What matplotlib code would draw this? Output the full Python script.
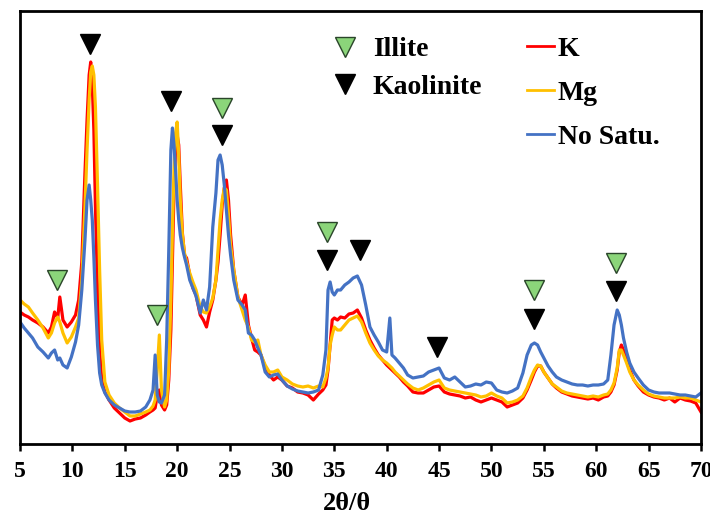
import matplotlib
matplotlib.use("Agg")
import matplotlib.pyplot as plt
from matplotlib.lines import Line2D

plt.rcParams['font.family'] = ['Liberation Serif', 'DejaVu Serif']
plt.rcParams['font.weight'] = 'bold'

# 2theta positions (degrees)
two_theta = [
    5.0, 5.4, 5.8, 6.2, 6.7, 7.2, 7.7, 8.0, 8.3, 8.6,
    8.8, 9.1, 9.5, 9.9, 10.3, 10.6, 10.9, 11.2, 11.4, 11.6,
    11.75, 11.9, 12.05, 12.2, 12.4, 12.6, 12.8, 13.1, 13.5, 14.0,
    14.5, 15.0, 15.5, 16.0, 16.5, 17.0, 17.4, 17.7, 17.9, 18.1,
    18.3, 18.5, 18.8, 19.0, 19.2, 19.4, 19.55, 19.7, 19.85, 20.0,
    20.15, 20.3, 20.5, 20.7, 20.9, 21.2, 21.5, 21.8, 22.2, 22.5,
    22.8, 23.1, 23.4, 23.7, 23.9, 24.1, 24.3, 24.5, 24.7, 24.9,
    25.1, 25.4, 25.8, 26.2, 26.5, 26.8, 27.1, 27.4, 27.7, 28.0,
    28.4, 28.8, 29.2, 29.6, 30.0, 30.5, 31.0, 31.5, 32.0, 32.5,
    33.0, 33.5, 33.9, 34.2, 34.4, 34.6, 34.8, 35.0, 35.3, 35.6,
    36.0, 36.4, 36.8, 37.2, 37.6, 38.0, 38.4, 38.8, 39.2, 39.6,
    40.0, 40.3, 40.5, 40.8, 41.2, 41.6, 42.0, 42.5, 43.0, 43.5,
    44.0, 44.5, 45.0, 45.5, 46.0, 46.5, 47.0, 47.5, 48.0, 48.5,
    49.0, 49.5, 50.0, 50.5, 51.0, 51.5, 52.0, 52.5, 53.0, 53.4,
    53.8, 54.1, 54.4, 54.7, 55.0, 55.4, 55.8, 56.2, 56.7, 57.2,
    57.7, 58.2, 58.7, 59.2, 59.7, 60.2, 60.7, 61.1, 61.4, 61.7,
    62.0, 62.2, 62.4, 62.6, 62.9, 63.2, 63.6, 64.0, 64.5, 65.0,
    65.5, 66.0, 66.5, 67.0, 67.5, 68.0, 68.5, 69.0, 69.5, 70.0,
]

# Intensities (arbitrary units)
k_sat = [
    132, 129, 127, 124, 121, 117, 111, 117, 132, 126,
    147, 124, 117, 122, 129, 144, 182, 271, 324, 369,
    382, 359, 314, 237, 154, 94, 64, 52, 44, 36,
    31, 26, 23, 25, 26, 29, 32, 34, 36, 49,
    54, 39, 34, 39, 64, 114, 184, 254, 294, 309,
    299, 259, 211, 189, 186, 169, 156, 149, 129, 124,
    117, 132, 144, 164, 182, 209, 239, 256, 264, 244,
    209, 174, 147, 139, 149, 119, 106, 94, 92, 89,
    77, 69, 64, 67, 64, 58, 56, 52, 51, 49,
    44, 50, 54, 59, 74, 99, 124, 126, 124, 127,
    126, 130, 131, 134, 126, 114, 104, 96, 89, 84,
    79, 76, 74, 71, 67, 62, 58, 52, 51, 51,
    54, 57, 58, 52, 50, 49, 48, 46, 47, 44,
    42, 44, 46, 44, 42, 37, 39, 41, 46, 54,
    64, 72, 78, 78, 72, 66, 60, 56, 52, 50,
    48, 47, 46, 45, 46, 44, 47, 48, 52, 59,
    74, 92, 99, 94, 84, 74, 64, 58, 52, 49,
    47, 46, 44, 46, 42, 46, 44, 43, 41, 32,
]

mg_sat = [
    144, 140, 137, 131, 124, 116, 106, 111, 121, 127,
    122, 111, 101, 107, 117, 126, 164, 237, 294, 344,
    372, 378, 369, 337, 259, 174, 104, 62, 49, 41,
    36, 32, 28, 28, 30, 32, 34, 38, 44, 74,
    109, 54, 37, 44, 74, 144, 214, 274, 311, 322,
    289, 244, 209, 191, 182, 171, 162, 154, 137, 132,
    131, 137, 146, 164, 194, 224, 244, 256, 254, 229,
    199, 174, 147, 134, 124, 117, 104, 102, 104, 89,
    79, 72, 72, 74, 67, 64, 60, 58, 57, 58,
    56, 58, 57, 66, 76, 99, 109, 117, 114, 114,
    119, 124, 126, 128, 122, 111, 101, 94, 88, 84,
    81, 78, 76, 72, 68, 64, 60, 56, 54, 56,
    59, 62, 64, 56, 54, 53, 52, 51, 50, 49,
    47, 48, 51, 48, 46, 41, 42, 44, 48, 56,
    67, 74, 79, 78, 72, 66, 60, 57, 53, 51,
    50, 49, 48, 47, 48, 47, 49, 50, 54, 61,
    76, 94, 94, 89, 81, 72, 64, 59, 54, 50,
    48, 47, 46, 46, 46, 47, 46, 46, 44, 42,
]

no_sat = [
    122, 116, 111, 106, 97, 92, 86, 91, 94, 84,
    86, 79, 76, 87, 102, 119, 154, 204, 244, 259,
    244, 224, 187, 144, 99, 71, 59, 51, 44, 39,
    36, 33, 32, 32, 33, 37, 44, 54, 89, 49,
    42, 41, 49, 104, 194, 294, 316, 299, 274, 244,
    224, 209, 196, 187, 179, 164, 156, 148, 131, 144,
    134, 157, 217, 251, 284, 289, 279, 259, 234, 209,
    189, 164, 144, 139, 134, 111, 109, 104, 96, 89,
    72, 67, 69, 70, 64, 58, 55, 53, 52, 51,
    52, 54, 69, 94, 154, 162, 152, 149, 154, 154,
    159, 162, 166, 168, 159, 139, 117, 109, 102, 94,
    92, 126, 89, 86, 81, 76, 69, 66, 67, 68,
    72, 74, 76, 66, 64, 67, 62, 57, 58, 60,
    59, 62, 61, 54, 52, 51, 53, 56, 71, 89,
    99, 101, 99, 92, 86, 78, 72, 67, 64, 62,
    60, 59, 59, 58, 59, 59, 60, 64, 89, 119,
    134, 129, 119, 106, 92, 81, 72, 66, 59, 54,
    52, 51, 51, 51, 50, 49, 49, 48, 47, 51,
]

# Mineral markers (position, marker height)
illite_x = [8.5, 18.04, 24.25, 34.3, 54.1, 61.87]
illite_y = [164, 129, 336, 212, 154, 181]
kaolinite_x = [11.71, 19.38, 24.25, 34.3, 37.44, 44.76, 54.1, 61.87]
kaolinite_y = [400, 343, 309, 184, 194, 97, 125, 153]

series_labels = ['K', 'Mg', 'No Satu.']
series_colors = ['#FF0000', '#FFC000', '#4472C4']
xticks = [5, 10, 15, 20, 25, 30, 35, 40, 45, 50, 55, 60, 65, 70]

fig = plt.figure(figsize=(7.1, 5.17), dpi=100)
ax = fig.add_axes([20 / 710, 73 / 517, 681 / 710, 433 / 517])

for vals, lab, col in zip([k_sat, mg_sat, no_sat], series_labels, series_colors):
    ax.plot(two_theta, vals, color=col, lw=2.3, label=lab, solid_joinstyle='round')

green = '#8BD57A'
ax.plot(illite_x, illite_y, ls='none', marker='v', ms=15, mfc=green, mec='#2A452A', mew=1.0)
ax.plot(kaolinite_x, kaolinite_y, ls='none', marker='v', ms=15, mfc='black', mec='black', mew=1.0)

ax.set_xlim(5, 70)
ax.set_ylim(0, 433)
ax.set_xticks(xticks)
ax.set_xticklabels([str(t) for t in xticks])
ax.set_yticks([])
for s in ax.spines.values():
    s.set_linewidth(2.0)
ax.tick_params(axis='x', direction='out', length=5, width=1.8, pad=7, labelsize=17)
ax.set_xlabel('2θ/θ', fontsize=19, fontweight='bold')
ax.xaxis.set_label_coords(0.48, -0.112)

legend_font = {'family': 'Liberation Serif', 'weight': 'bold', 'size': 20}
mk_handles = [
    Line2D([], [], ls='none', marker='v', ms=15, mfc=green, mec='#2A452A', mew=1.0),
    Line2D([], [], ls='none', marker='v', ms=15, mfc='black', mec='black', mew=1.0),
]
leg1 = ax.legend(mk_handles, ['Illite', 'Kaolinite'], loc='upper left',
                 bbox_to_anchor=(0.457, 0.94), frameon=False, prop=legend_font,
                 handlelength=1.0, handletextpad=0.5, labelspacing=0.42,
                 borderaxespad=0, borderpad=0)
ax.add_artist(leg1)
leg2 = ax.legend(loc='upper left', bbox_to_anchor=(0.744, 0.942), frameon=False,
                 prop=legend_font, handlelength=1.0, handletextpad=0.12,
                 labelspacing=0.67, borderaxespad=0, borderpad=0)
for h in leg2.get_lines():
    h.set_linewidth(2.0)

fig.savefig('out.png', dpi=100)
